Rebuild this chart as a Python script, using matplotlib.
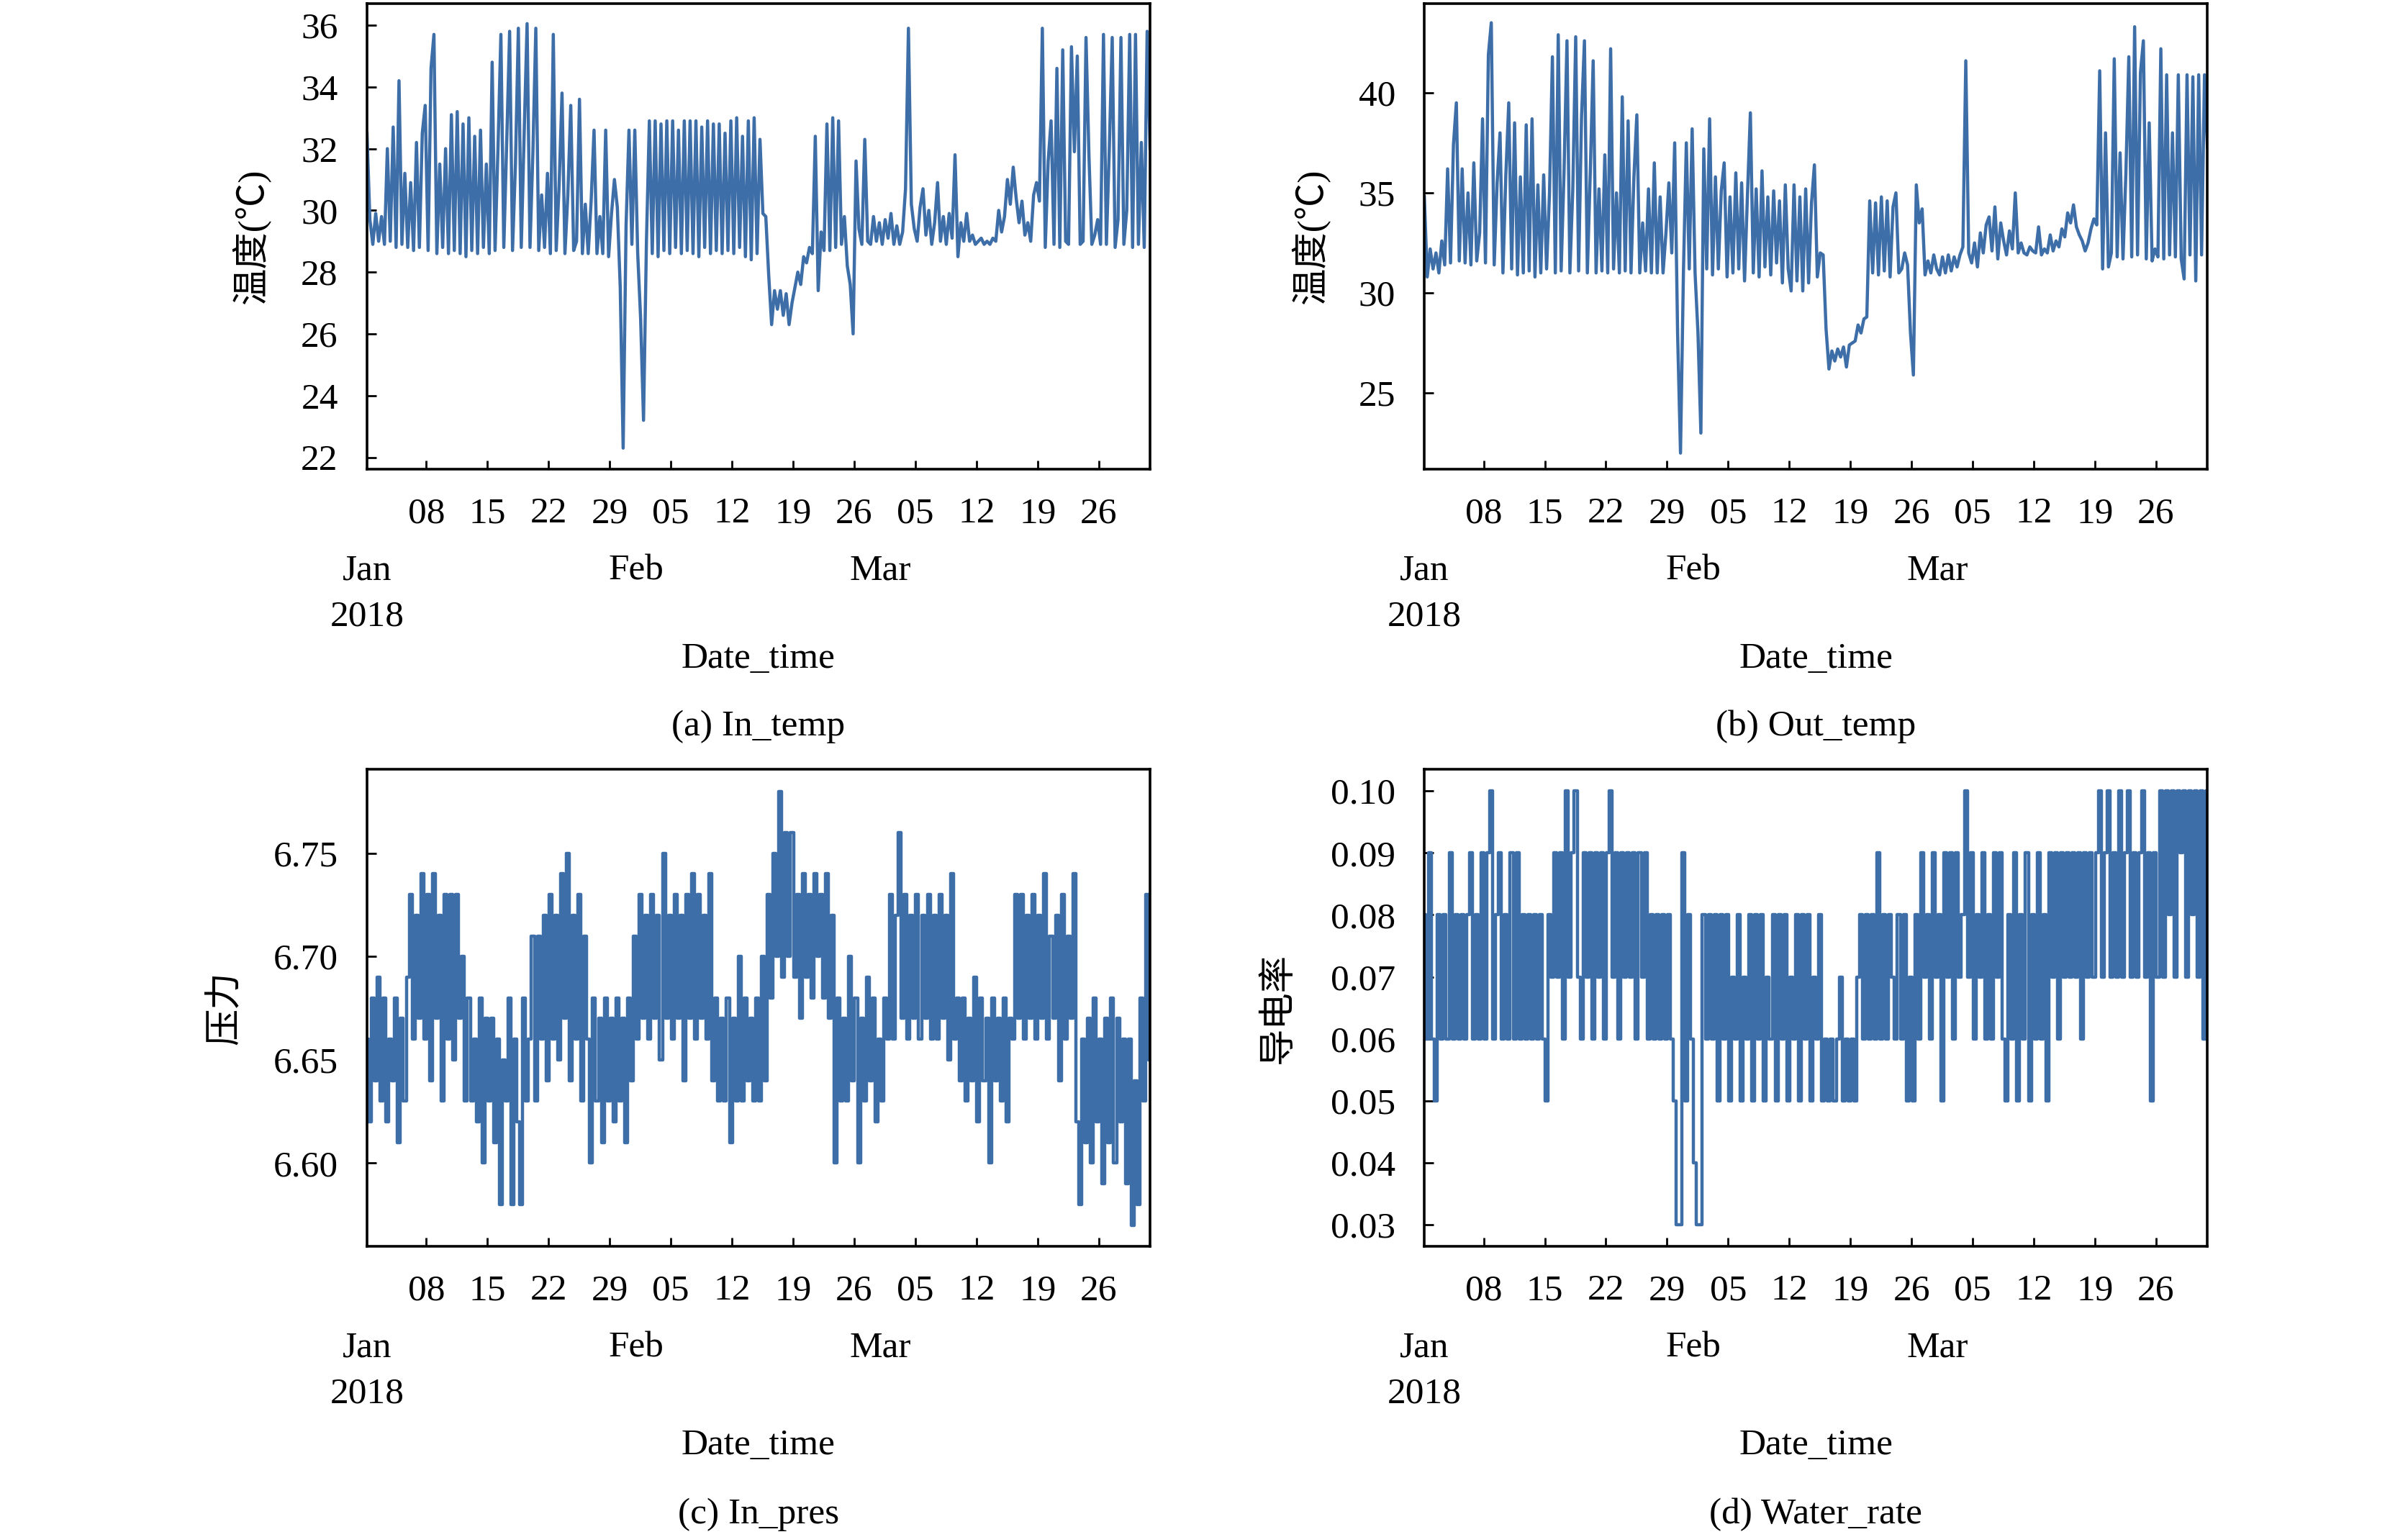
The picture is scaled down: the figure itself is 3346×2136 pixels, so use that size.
import matplotlib
matplotlib.use("Agg")
import matplotlib.pyplot as plt
import matplotlib.dates as mdates
from matplotlib.ticker import MultipleLocator, FormatStrFormatter
import numpy as np
import pandas as pd

plt.rcParams['font.family'] = ['Liberation Serif', 'Noto Sans CJK SC', 'DejaVu Sans']
plt.rcParams['font.size'] = 37

# ---- data: one value every 8 hours, Jan 1 05:00 .. Mar 31 21:00 ----
times = pd.date_range("2018-01-01 05:00", periods=270, freq="8h")

in_temp_jan = [32.5, 29.7, 28.9, 29.9, 29.0, 29.8, 28.9, 32.0, 29.0, 32.7, 28.8, 34.2,
               28.9, 31.2, 28.8, 30.9, 28.7, 32.2, 28.8, 32.5, 33.4, 28.7, 34.6, 35.7,
               28.6, 31.5, 28.8, 32.0, 28.6, 33.1, 28.7, 33.2, 28.6, 32.8, 28.5, 33.0,
               28.7, 32.4, 28.6, 32.6, 28.8, 31.5, 28.6, 34.8, 28.7, 32.0, 35.7, 28.8,
               32.2, 35.8, 28.7, 31.5, 35.9, 28.8, 32.5, 36.05, 28.8, 31.9, 35.9, 28.7,
               30.5, 28.8, 31.2, 28.6, 35.7, 28.7, 30.8, 33.8, 28.6, 30.5, 33.4, 28.7,
               29.0, 33.6, 28.6, 30.2, 28.6, 30.3, 32.6, 28.6, 29.8, 28.6, 32.6, 28.5,
               29.9, 31.0, 30.1, 27.5, 22.3, 29.5, 32.6, 28.9, 32.6]
in_temp_feb = [28.6, 26.5, 23.2, 29.0, 32.9, 28.6, 32.9, 28.5, 32.8, 28.7, 32.9, 28.6,
               32.9, 28.8, 32.6, 28.6, 32.9, 28.7, 32.9, 28.6, 32.9, 28.5, 32.7, 28.8,
               32.9, 28.6, 32.8, 28.7, 32.8, 28.6, 32.5, 28.7, 32.9, 28.6, 33.0, 28.8,
               32.4, 28.5, 32.9, 28.4, 33.0, 28.6, 32.3, 29.9, 29.8, 27.9, 26.3, 27.4,
               26.8, 27.4, 26.6, 27.3, 26.3, 27.0, 27.5, 28.0, 27.6, 28.5, 28.3, 28.8,
               28.6, 32.4, 27.4, 29.3, 28.7, 32.8, 28.7, 33.0, 28.8, 32.9, 28.9, 29.8,
               28.2, 27.6, 26.0, 31.6, 29.4, 28.9, 32.3, 29.0, 28.9, 29.8, 29.0, 29.6]
in_temp_mar = [28.9, 29.7, 29.1, 29.9, 28.9, 29.5, 28.9, 29.3, 30.7, 35.9, 30.2, 29.4,
               29.0, 30.1, 30.7, 29.2, 30.0, 28.9, 29.6, 30.9, 29.0, 29.8, 28.9, 29.9,
               29.1, 31.8, 28.5, 29.6, 29.0, 29.9, 29.0, 29.2, 28.9, 29.0, 29.1, 28.9,
               29.0, 28.9, 29.1, 29.0, 30.0, 29.3, 29.8, 31.0, 30.2, 31.4, 30.4, 29.6,
               30.3, 29.2, 29.6, 29.0, 30.5, 30.9, 30.3, 35.9, 28.8, 31.6, 32.9, 28.9,
               34.6, 28.8, 35.2, 29.0, 28.9, 35.3, 31.9, 35.0, 28.9, 29.0, 35.6, 31.8,
               28.9, 29.2, 29.7, 28.9, 35.7, 28.9, 32.0, 35.6, 28.8, 29.7, 35.6, 28.9,
               30.0, 35.7, 28.8, 35.7, 28.9, 32.2, 28.8, 35.8, 32.0]

out_temp_jan = [34.8, 30.8, 32.2, 31.2, 32.0, 31.0, 32.6, 31.4, 36.2, 31.5, 37.4, 39.5,
                31.6, 36.2, 31.5, 35.0, 31.4, 36.5, 31.6, 33.0, 38.7, 31.5, 41.9, 43.5,
                31.4, 35.5, 38.0, 31.0, 35.9, 39.5, 31.2, 38.5, 30.9, 35.8, 31.0, 38.4,
                31.1, 38.7, 30.8, 35.4, 31.0, 35.9, 31.2, 35.0, 41.8, 31.0, 42.9, 31.1,
                36.1, 42.6, 31.0, 35.2, 42.8, 31.1, 38.8, 42.6, 31.0, 36.0, 41.6, 31.0,
                35.2, 31.1, 36.9, 31.0, 42.2, 31.2, 35.0, 31.0, 39.8, 31.1, 38.6, 31.0,
                35.8, 38.9, 31.0, 33.5, 31.1, 35.2, 31.0, 36.5, 31.0, 34.8, 31.0, 33.0,
                35.5, 32.0, 37.5, 28.0, 22.0, 31.0, 37.5, 31.2, 38.2]
out_temp_feb = [31.0, 28.0, 23.0, 37.2, 31.2, 38.7, 30.9, 35.8, 31.2, 35.1, 36.5, 30.8,
                34.8, 31.0, 36.0, 31.2, 35.5, 30.6, 34.9, 39.0, 31.0, 35.2, 30.8, 36.1,
                31.3, 34.8, 30.9, 35.1, 31.5, 34.6, 30.5, 35.4, 31.2, 30.1, 35.4, 30.6,
                34.8, 30.1, 35.2, 30.5, 34.5, 36.4, 30.8, 32.0, 31.9, 28.2, 26.2, 27.1,
                26.6, 27.2, 26.8, 27.3, 26.3, 27.4, 27.5, 27.6, 28.4, 28.0, 28.7, 28.8,
                34.6, 31.0, 34.5, 30.9, 34.8, 31.1, 34.6, 30.8, 34.3, 35.0, 31.0, 31.2,
                32.0, 31.4, 28.0, 25.9, 35.4, 33.5, 34.2, 30.9, 31.6, 31.0, 31.9, 31.2]
out_temp_mar = [30.9, 31.8, 31.0, 31.9, 31.1, 31.8, 31.3, 31.9, 32.3, 41.6, 32.0, 31.5,
                32.5, 31.3, 33.0, 32.0, 33.4, 33.8, 32.1, 34.3, 31.7, 33.5, 32.6, 31.9,
                33.1, 32.2, 35.0, 32.0, 32.5, 32.0, 31.9, 32.3, 32.1, 32.0, 33.3, 31.9,
                32.2, 32.0, 32.9, 32.1, 32.6, 32.3, 33.2, 32.8, 34.0, 33.5, 34.4, 33.3,
                32.9, 32.6, 32.1, 32.5, 33.2, 33.7, 33.4, 41.1, 31.2, 38.0, 31.3, 32.0,
                41.7, 31.8, 37.0, 31.7, 36.0, 41.8, 31.8, 43.3, 31.9, 41.0, 42.6, 31.7,
                38.5, 31.6, 32.2, 31.8, 42.2, 31.7, 40.9, 31.9, 38.0, 31.8, 40.9, 31.7,
                30.7, 40.9, 31.9, 40.8, 30.6, 40.9, 31.9, 40.9, 37.3]

in_pres_jan = [6.66, 6.62, 6.68, 6.64, 6.69, 6.63, 6.68, 6.62, 6.66, 6.64, 6.68, 6.61,
               6.67, 6.63, 6.69, 6.73, 6.66, 6.72, 6.67, 6.74, 6.66, 6.73, 6.64, 6.74,
               6.67, 6.72, 6.63, 6.73, 6.66, 6.73, 6.65, 6.73, 6.67, 6.70, 6.63, 6.68,
               6.63, 6.66, 6.62, 6.68, 6.60, 6.67, 6.63, 6.67, 6.61, 6.66, 6.58, 6.65,
               6.63, 6.68, 6.58, 6.66, 6.62, 6.58, 6.68, 6.63, 6.66, 6.71, 6.63, 6.71,
               6.66, 6.72, 6.64, 6.73, 6.66, 6.72, 6.65, 6.74, 6.67, 6.75, 6.64, 6.72,
               6.66, 6.73, 6.63, 6.71, 6.66, 6.60, 6.68, 6.63, 6.67, 6.61, 6.68, 6.63,
               6.67, 6.62, 6.68, 6.63, 6.67, 6.61, 6.68, 6.64, 6.71]
in_pres_feb = [6.66, 6.73, 6.67, 6.72, 6.66, 6.73, 6.67, 6.72, 6.65, 6.75, 6.67, 6.72,
               6.66, 6.73, 6.67, 6.72, 6.64, 6.73, 6.67, 6.74, 6.66, 6.73, 6.67, 6.72,
               6.66, 6.74, 6.64, 6.68, 6.63, 6.67, 6.63, 6.68, 6.61, 6.67, 6.63, 6.70,
               6.63, 6.68, 6.64, 6.67, 6.63, 6.68, 6.63, 6.70, 6.64, 6.73, 6.68, 6.75,
               6.70, 6.78, 6.69, 6.76, 6.70, 6.76, 6.69, 6.73, 6.67, 6.74, 6.69, 6.73,
               6.68, 6.74, 6.70, 6.73, 6.68, 6.74, 6.67, 6.72, 6.60, 6.68, 6.63, 6.67,
               6.63, 6.70, 6.64, 6.68, 6.60, 6.67, 6.63, 6.69, 6.64, 6.68, 6.62, 6.66]
in_pres_mar = [6.63, 6.68, 6.66, 6.73, 6.66, 6.72, 6.76, 6.67, 6.73, 6.66, 6.72, 6.67,
               6.73, 6.66, 6.72, 6.67, 6.73, 6.66, 6.72, 6.66, 6.73, 6.67, 6.72, 6.65,
               6.74, 6.66, 6.68, 6.64, 6.68, 6.63, 6.67, 6.64, 6.69, 6.62, 6.68, 6.64,
               6.67, 6.60, 6.68, 6.64, 6.67, 6.63, 6.68, 6.62, 6.67, 6.66, 6.73, 6.67,
               6.73, 6.66, 6.72, 6.67, 6.73, 6.66, 6.72, 6.67, 6.74, 6.66, 6.71, 6.67,
               6.72, 6.64, 6.73, 6.66, 6.71, 6.67, 6.74, 6.62, 6.58, 6.66, 6.61, 6.67,
               6.60, 6.68, 6.62, 6.66, 6.59, 6.67, 6.61, 6.68, 6.60, 6.67, 6.62, 6.66,
               6.59, 6.66, 6.57, 6.64, 6.58, 6.68, 6.63, 6.73, 6.65]

water_rate_jan = [0.08, 0.06, 0.09, 0.06, 0.05, 0.08, 0.06, 0.08, 0.06, 0.09, 0.06, 0.08,
                  0.06, 0.08, 0.06, 0.08, 0.09, 0.06, 0.08, 0.06, 0.09, 0.06, 0.09, 0.10,
                  0.06, 0.08, 0.09, 0.06, 0.08, 0.06, 0.09, 0.06, 0.09, 0.06, 0.08, 0.06,
                  0.08, 0.06, 0.08, 0.06, 0.08, 0.06, 0.05, 0.08, 0.07, 0.09, 0.07, 0.09,
                  0.06, 0.10, 0.07, 0.09, 0.10, 0.07, 0.06, 0.09, 0.07, 0.09, 0.06, 0.09,
                  0.07, 0.09, 0.06, 0.09, 0.10, 0.07, 0.09, 0.06, 0.09, 0.07, 0.09, 0.07,
                  0.09, 0.06, 0.09, 0.07, 0.09, 0.06, 0.08, 0.06, 0.08, 0.06, 0.08, 0.06,
                  0.08, 0.06, 0.05, 0.03, 0.03, 0.09, 0.05, 0.08, 0.06]
water_rate_feb = [0.04, 0.03, 0.03, 0.08, 0.06, 0.08, 0.06, 0.08, 0.05, 0.08, 0.06, 0.08,
                  0.05, 0.07, 0.06, 0.08, 0.05, 0.07, 0.06, 0.08, 0.05, 0.08, 0.06, 0.08,
                  0.05, 0.07, 0.06, 0.08, 0.05, 0.08, 0.06, 0.08, 0.05, 0.07, 0.06, 0.08,
                  0.05, 0.08, 0.06, 0.08, 0.05, 0.07, 0.06, 0.08, 0.05, 0.06, 0.05, 0.06,
                  0.05, 0.06, 0.07, 0.05, 0.06, 0.05, 0.06, 0.05, 0.07, 0.08, 0.06, 0.08,
                  0.06, 0.08, 0.06, 0.09, 0.06, 0.08, 0.06, 0.08, 0.07, 0.06, 0.08, 0.06,
                  0.08, 0.05, 0.07, 0.05, 0.08, 0.06, 0.09, 0.07, 0.08, 0.06, 0.09, 0.07]
water_rate_mar = [0.08, 0.05, 0.09, 0.07, 0.09, 0.06, 0.09, 0.07, 0.08, 0.10, 0.07, 0.09,
                  0.06, 0.08, 0.07, 0.09, 0.06, 0.08, 0.06, 0.09, 0.07, 0.09, 0.06, 0.05,
                  0.08, 0.06, 0.09, 0.05, 0.08, 0.06, 0.09, 0.05, 0.08, 0.06, 0.09, 0.06,
                  0.08, 0.05, 0.09, 0.07, 0.09, 0.06, 0.09, 0.07, 0.09, 0.07, 0.09, 0.07,
                  0.09, 0.06, 0.09, 0.07, 0.09, 0.07, 0.09, 0.10, 0.07, 0.09, 0.10, 0.07,
                  0.09, 0.07, 0.10, 0.07, 0.09, 0.10, 0.07, 0.09, 0.07, 0.09, 0.10, 0.07,
                  0.09, 0.05, 0.09, 0.07, 0.10, 0.07, 0.10, 0.08, 0.10, 0.07, 0.10, 0.09,
                  0.10, 0.07, 0.10, 0.08, 0.10, 0.07, 0.10, 0.06, 0.10]

in_temp = in_temp_jan + in_temp_feb + in_temp_mar
out_temp = out_temp_jan + out_temp_feb + out_temp_mar
in_pres = in_pres_jan + in_pres_feb + in_pres_mar
water_rate = water_rate_jan + water_rate_feb + water_rate_mar

month_ticks = [times[0], pd.Timestamp("2018-02-01"), pd.Timestamp("2018-03-01")]
month_labels = ["Jan\n2018", "Feb", "Mar"]

line_color = '#3e6ea8'

fig = plt.figure(figsize=(33.46, 21.36), dpi=100)

panels = [
    # position, values, ylabel, ylabel x, ylim, tick step, format, caption, drawstyle,
    # xlabel y, caption y
    ([0.1524, 0.6948, 0.3252, 0.3029], in_temp, '温度(℃)', -0.148,
     (21.62, 36.70), 2, '%d', '(a) In_temp', 'default', -0.408, -0.553),
    ([0.5915, 0.6948, 0.3252, 0.3029], out_temp, '温度(℃)', -0.145,
     (21.2, 44.46), 5, '%d', '(b) Out_temp', 'default', -0.408, -0.553),
    ([0.1524, 0.1891, 0.3252, 0.3104], in_pres, '压力', -0.181,
     (6.5597, 6.7906), 0.05, '%.2f', '(c) In_pres', 'steps-mid', -0.418, -0.562),
    ([0.5915, 0.1891, 0.3252, 0.3104], water_rate, '导电率', -0.186,
     (0.0265, 0.1035), 0.01, '%.2f', '(d) Water_rate', 'steps-mid', -0.418, -0.562),
]

for pos, vals, ylab, ylab_x, ylim, step, fmt, cap, ds, xlab_y, cap_y in panels:
    ax = fig.add_axes(pos)
    ax.plot(times.values, vals, color=line_color, lw=3.2, drawstyle=ds)
    ax.set_xlim(times[0], times[-1])
    ax.set_ylim(*ylim)

    ax.xaxis.set_major_locator(mdates.WeekdayLocator(byweekday=mdates.MO))
    ax.xaxis.set_major_formatter(mdates.DateFormatter('%d'))
    ax.set_xticks(month_ticks, month_labels, minor=True, linespacing=1.5)
    ax.yaxis.set_major_locator(MultipleLocator(step))
    ax.yaxis.set_major_formatter(FormatStrFormatter(fmt))

    ax.tick_params(axis='x', which='major', direction='in', length=9, width=2, pad=28)
    ax.tick_params(axis='x', which='minor', length=0, pad=85)
    ax.tick_params(axis='y', which='major', direction='in', length=9, width=2, pad=29)
    for sp in ax.spines.values():
        sp.set_linewidth(2.6)

    ax.set_ylabel(ylab, va='center')
    ax.yaxis.set_label_coords(ylab_x, 0.5)
    ax.set_xlabel('Date_time', va='center')
    ax.xaxis.set_label_coords(0.5, xlab_y)
    ax.text(0.5, cap_y, cap, transform=ax.transAxes, ha='center', va='center')

fig.savefig('out.png', dpi=100)
